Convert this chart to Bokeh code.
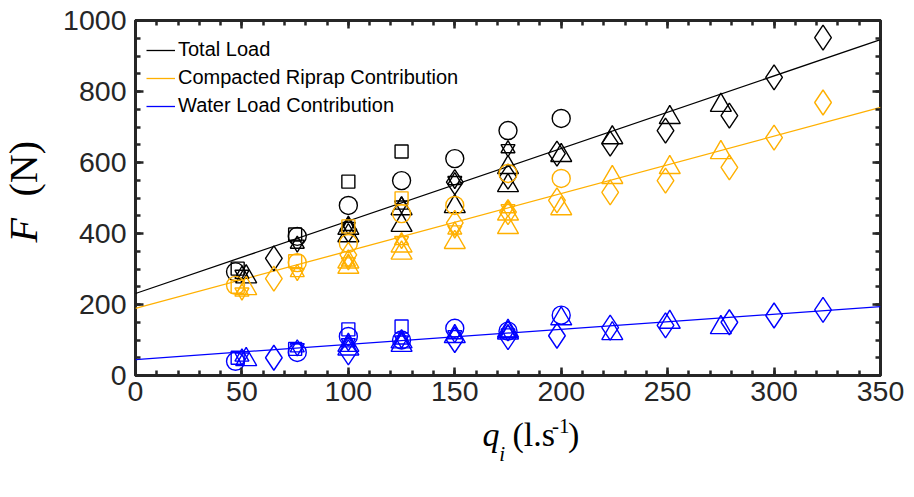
from bokeh.plotting import figure
from bokeh.models import Range1d, LinearAxis, Label, Legend, LegendItem, SingleIntervalTicker
from bokeh.layouts import row, column
from bokeh.embed import file_html
from bokeh.resources import INLINE

# ---------------- data ----------------
# fitted lines (end points over the q range)
fit_q = [0, 350]
fit_total = [231, 946]
fit_riprap = [189, 755]
fit_water = [45, 194]

# squares
sq_q = [48, 75, 100, 125]
sq_total = [301, 397, 546, 631]
sq_riprap = [250, 322, 420, 499]
sq_water = [50, 75, 130, 138]

# circles
ci_q = [47, 76, 100, 125, 150, 175, 200]
ci_total = [292, 392, 479, 549, 611, 690, 724]
ci_riprap = [254, 318, 372, 456, 479, 569, 555]
ci_water = [40, 65, 110, 100, 133, 125, 170]

# hexagrams
hx_q = [50, 76, 100, 125, 150, 175]
hx_total = [285, 370, 420, 480, 549, 639]
hx_riprap = [235, 290, 320, 380, 410, 470]
hx_water = [52, 78, 92, 100, 115, 120]

# triangles
tr_q = [52, 100, 100, 125, 125, 150, 175, 175, 200, 224, 251, 275]
tr_total = [278, 394, 415, 423, 470, 476, 535, 586, 620, 670, 727, 761]
tr_riprap = [245, 305, 320, 345, 365, 375, 417, 455, 470, 558, 586, 628]
tr_water = [45, 75, 85, 85, 95, 110, 120, 125, 160, 118, 150, 135]

# diamonds
di_q = [65, 100, 150, 175, 198, 223, 249, 279, 300, 323]
di_total = [330, 410, 545, 560, 625, 653, 690, 732, 840, 952]
di_riprap = [273, 340, 430, 460, 493, 516, 549, 586, 670, 769]
di_water = [50, 65, 100, 108, 112, 135, 141, 150, 169, 185]

x_ticks = [0, 50, 100, 150, 200, 250, 300, 350]
y_ticks = [0, 200, 400, 600, 800, 1000]
legend_labels = ["Total Load", "Compacted Riprap Contribution", "Water Load Contribution"]

# ---------------- style ----------------
BLACK = "#000000"
ORANGE = "#FFB000"
BLUE = "#0000FF"
AX = "#262626"
SERIF = "Liberation Serif"

YLAB_W = 60
MAIN_W = 846
MAIN_H = 415
XLAB_H = 75

p = figure(width=MAIN_W, height=MAIN_H,
           min_border_left=75, min_border_top=20, min_border_right=26, min_border_bottom=40,
           x_range=Range1d(0, 350), y_range=Range1d(0, 1000),
           output_backend="svg", toolbar_location=None)
p.xgrid.visible = False
p.ygrid.visible = False
p.outline_line_color = AX
p.outline_line_width = 3
p.background_fill_color = "white"
p.border_fill_color = "white"

xt = SingleIntervalTicker(interval=x_ticks[1] - x_ticks[0], num_minor_ticks=5)
yt = SingleIntervalTicker(interval=y_ticks[1] - y_ticks[0], num_minor_ticks=4)
bottom = p.xaxis[0]
left = p.yaxis[0]
bottom.ticker = xt
left.ticker = yt
top = LinearAxis(ticker=xt)
right = LinearAxis(ticker=yt)
p.add_layout(top, "above")
p.add_layout(right, "right")

for ax in [bottom, left, top, right]:
    ax.axis_line_color = None
    ax.major_tick_in = 8
    ax.major_tick_out = 0
    ax.minor_tick_in = 5
    ax.minor_tick_out = 0
    ax.major_tick_line_color = AX
    ax.minor_tick_line_color = AX
    ax.major_tick_line_width = 2.5
    ax.minor_tick_line_width = 2.5
    ax.major_label_text_font = "Liberation Sans"
    ax.major_label_text_font_size = "28.5px"
    ax.major_label_text_color = AX
top.major_label_overrides = {v: "" for v in x_ticks}
right.major_label_overrides = {v: "" for v in y_ticks}
top.major_label_standoff = 0
right.major_label_standoff = 0
bottom.major_label_standoff = 6
left.major_label_standoff = 9

# fitted lines
l1 = p.line(fit_q, fit_total, line_color=BLACK, line_width=1.3)
l2 = p.line(fit_q, fit_riprap, line_color=ORANGE, line_width=1.3)
l3 = p.line(fit_q, fit_water, line_color=BLUE, line_width=1.3)

lw = 1.4
for col, sq, ci, hx, tr, di in [
    (BLACK, sq_total, ci_total, hx_total, tr_total, di_total),
    (ORANGE, sq_riprap, ci_riprap, hx_riprap, tr_riprap, di_riprap),
    (BLUE, sq_water, ci_water, hx_water, tr_water, di_water),
]:
    p.scatter(sq_q, sq, marker="square", size=13, fill_color=None, line_color=col, line_width=lw)
    p.scatter(ci_q, ci, marker="circle", size=18, fill_color=None, line_color=col, line_width=lw)
    p.scatter(hx_q, hx, marker="triangle", size=14, fill_color=None, line_color=col, line_width=lw)
    p.scatter(hx_q, hx, marker="inverted_triangle", size=14, fill_color=None, line_color=col, line_width=lw)
    p.scatter(tr_q, tr, marker="triangle", size=21, fill_color=None, line_color=col, line_width=lw)
    p.scatter(di_q, di, marker="diamond", size=25, fill_color=None, line_color=col, line_width=lw)

legend = Legend(items=[LegendItem(label=legend_labels[0], renderers=[l1]),
                       LegendItem(label=legend_labels[1], renderers=[l2]),
                       LegendItem(label=legend_labels[2], renderers=[l3])],
                location=(11, 258))
legend.border_line_color = None
legend.background_fill_alpha = 0
legend.margin = 0
legend.padding = 0
legend.spacing = 5
legend.glyph_width = 29
legend.glyph_height = 22
legend.label_height = 22
legend.label_standoff = 3
legend.label_text_font = "Liberation Sans"
legend.label_text_font_size = "20px"
legend.label_text_color = "#000000"
p.add_layout(legend)


def blank_fig(w, h):
    f = figure(width=w, height=h, x_range=Range1d(0, w), y_range=Range1d(0, h),
               x_axis_type=None, y_axis_type=None, min_border=0,
               output_backend="svg", toolbar_location=None)
    f.outline_line_color = None
    f.background_fill_color = "white"
    f.border_fill_color = "white"
    return f


def lab(x, y, text, size, italic=False, angle=0):
    return Label(x=x, y=y, text=text, text_font=SERIF, text_font_size=size,
                 text_font_style="italic" if italic else "normal",
                 angle=angle, angle_units="deg", text_color="#000000")


# y axis title: "F (N)"
yl = blank_fig(YLAB_W, MAIN_H)
yl.add_layout(lab(45, MAIN_H - 242, "F", "40px", italic=True, angle=90))
yl.add_layout(lab(45, MAIN_H - 196, "(N)", "40px", angle=90))

# x axis title: "q_i (l.s^-1)"
xl = blank_fig(MAIN_W, XLAB_H)
base = XLAB_H - 37
xl.add_layout(lab(394, base, "q", "34px", italic=True))
xl.add_layout(lab(413, base - 13, "i", "21px", italic=True))
xl.add_layout(lab(428, base, "(l.s", "34px"))
xl.add_layout(lab(473, base + 20, "-1", "21px"))
xl.add_layout(lab(491, base, ")", "34px"))

layout = row(yl, column(p, xl, spacing=0), spacing=0)
open("out.html", "w").write(file_html(layout, INLINE))
